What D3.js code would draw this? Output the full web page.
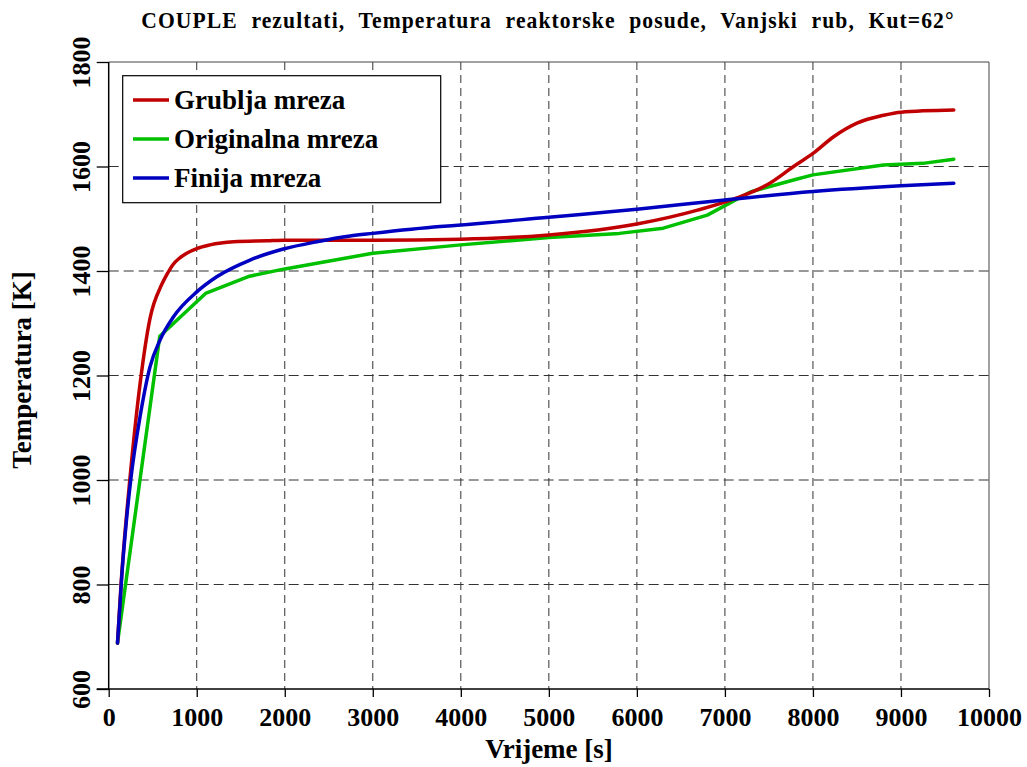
<!DOCTYPE html>
<html>
<head>
<meta charset="utf-8">
<script src="https://cdn.jsdelivr.net/npm/d3@7"></script>
<style>
  body { margin: 0; background: #fff; }
  svg { display: block; }
  text { font-family: "Liberation Serif", "Times New Roman", serif; font-weight: bold; fill: #000; }
</style>
</head>
<body>
<svg id="chart" width="1027" height="767"></svg>
<script>
const titleText = "COUPLE rezultati, Temperatura reaktorske posude, Vanjski rub, Kut=62°";
const xLabel = "Vrijeme [s]";
const yLabel = "Temperatura [K]";
const xTicks = [0, 1000, 2000, 3000, 4000, 5000, 6000, 7000, 8000, 9000, 10000];
const yTicks = [600, 800, 1000, 1200, 1400, 1600, 1800];
const seriesNames = ["Grublja mreza", "Originalna mreza", "Finija mreza"];
const seriesColors = ["#c00000", "#00c000", "#0000c0"];

const grubljaT = [100, 140, 240, 357, 470, 602, 660, 734, 800, 886, 1000, 1150, 1420, 1800, 2000, 3000, 4000, 5000, 6000, 6700, 7136, 7480, 7780, 8000, 8235, 8500, 8800, 9000, 9600];
const grubljaV = [688, 800, 1000, 1185, 1310, 1374, 1393, 1413, 1424, 1434, 1443, 1450, 1456, 1458, 1459, 1459, 1461, 1469, 1490, 1517, 1540, 1565, 1600, 1625, 1657, 1683, 1698, 1704, 1708];

const originalnaT = [100, 580, 1100, 1600, 2000, 3000, 4000, 5000, 5800, 6300, 6800, 7300, 7800, 8000, 8800, 9250, 9600];
const originalnaV = [688, 1275, 1357, 1390, 1404, 1434, 1450, 1464, 1472, 1482, 1507, 1552, 1575, 1584, 1603, 1606, 1614];

const finijaT = [100, 150, 200, 250, 356, 470, 583, 734, 1000, 1227, 1606, 1984, 2364, 2742, 3000, 3765, 4000, 5000, 6000, 7000, 8000, 9000, 9600];
const finijaV = [688, 820, 920, 1000, 1121, 1217, 1268, 1312, 1360, 1389, 1421, 1442, 1456, 1467, 1472, 1485, 1488, 1503, 1518, 1536, 1552, 1563, 1568];

const svg = d3.select("#chart");
const L = 108.7, R = 989, T = 62, B = 689;
const x = d3.scaleLinear().domain([0, 10000]).range([L, R]);
const y = d3.scaleLinear().domain([600, 1800]).range([B, T]);

// grid
const grid = svg.append("g");
grid.selectAll("line.vg").data(xTicks.filter(d => d > 0 && d < 10000)).enter().append("line")
  .attr("x1", d => x(d)).attr("x2", d => x(d)).attr("y1", T).attr("y2", B)
  .attr("stroke", "#333").attr("stroke-width", 1).attr("stroke-dasharray", "8,5");
grid.selectAll("line.hg").data(yTicks.filter(d => d > 600 && d < 1800)).enter().append("line")
  .attr("x1", L).attr("x2", R).attr("y1", d => y(d)).attr("y2", d => y(d))
  .attr("stroke", "#333").attr("stroke-width", 1).attr("stroke-dasharray", "10,5");
// frame top/right
svg.append("line").attr("x1", L).attr("x2", R).attr("y1", T).attr("y2", T).attr("stroke", "#444");
svg.append("line").attr("x1", R).attr("x2", R).attr("y1", T).attr("y2", B).attr("stroke", "#444");

// axes
const xAxis = d3.axisBottom(x).tickValues(xTicks).tickSize(8).tickSizeOuter(0).tickFormat(d3.format("d"));
const gx = svg.append("g").attr("transform", `translate(0,${B})`).call(xAxis);
gx.attr("font-family", null).attr("font-size", null);
gx.select(".domain").remove();
gx.selectAll("line").attr("stroke", "#000").attr("stroke-width", 1.3);
gx.selectAll("text").attr("y", 37).attr("dy", null)
  .style("font-size", "26px").style("font-family", "'Liberation Serif', serif").style("font-weight", "bold");
svg.append("line").attr("x1", L - 12).attr("x2", R).attr("y1", B).attr("y2", B).attr("stroke", "#000").attr("stroke-width", 1.5);

const yAxis = d3.axisLeft(y).tickValues(yTicks).tickSize(12).tickSizeOuter(0).tickFormat(d3.format("d"));
const gy = svg.append("g").attr("transform", `translate(${L},0)`).call(yAxis);
gy.attr("font-family", null).attr("font-size", null);
gy.select(".domain").remove();
gy.selectAll("line").attr("stroke", "#000").attr("stroke-width", 1.3);
gy.selectAll("text").attr("x", null).attr("dy", null)
  .attr("text-anchor", "middle")
  .attr("transform", "translate(-19,0) rotate(-90)")
  .style("font-size", "26px").style("font-family", "'Liberation Serif', serif").style("font-weight", "bold");
svg.append("line").attr("x1", L).attr("x2", L).attr("y1", T).attr("y2", B).attr("stroke", "#000").attr("stroke-width", 1.5);

// series
const allT = [grubljaT, originalnaT, finijaT];
const allV = [grubljaV, originalnaV, finijaV];
const curves = [d3.curveMonotoneX, d3.curveLinear, d3.curveMonotoneX];
const order = [1, 0, 2];
order.forEach(i => {
  const pts = allT[i].map((t, k) => [t, allV[i][k]]);
  const line = d3.line().x(d => x(d[0])).y(d => y(d[1])).curve(curves[i]);
  svg.append("path").attr("d", line(pts)).attr("fill", "none")
    .attr("stroke", seriesColors[i]).attr("stroke-width", 3.5)
    .attr("stroke-linejoin", "round").attr("stroke-linecap", "round");
});

// legend
const lg = svg.append("g");
lg.append("rect").attr("x", 122.7).attr("y", 75.7).attr("width", 318).attr("height", 127)
  .attr("fill", "#fff").attr("stroke", "#000").attr("stroke-width", 1.2);
seriesNames.forEach((n, i) => {
  const yy = 100 + i * 39;
  lg.append("line").attr("x1", 133).attr("x2", 169).attr("y1", yy).attr("y2", yy)
    .attr("stroke", seriesColors[i]).attr("stroke-width", 3.5);
  lg.append("text").attr("x", 174).attr("y", yy + 9).style("font-size", "27px").text(n);
});

// title
const tt = svg.append("text").attr("x", 548).attr("y", 28).attr("text-anchor", "middle")
  .style("font-size", "24px").style("word-spacing", "8px").style("letter-spacing", "1.2px").text(titleText);
tt.attr("transform", "translate(548,0) scale(0.9,1) translate(-548,0)");

// axis titles
svg.append("text").attr("x", 549).attr("y", 758).attr("text-anchor", "middle").style("font-size", "27px").text(xLabel);
svg.append("text").attr("transform", "translate(31,370) rotate(-90)").attr("text-anchor", "middle").style("font-size", "27px").text(yLabel);
</script>
</body>
</html>
